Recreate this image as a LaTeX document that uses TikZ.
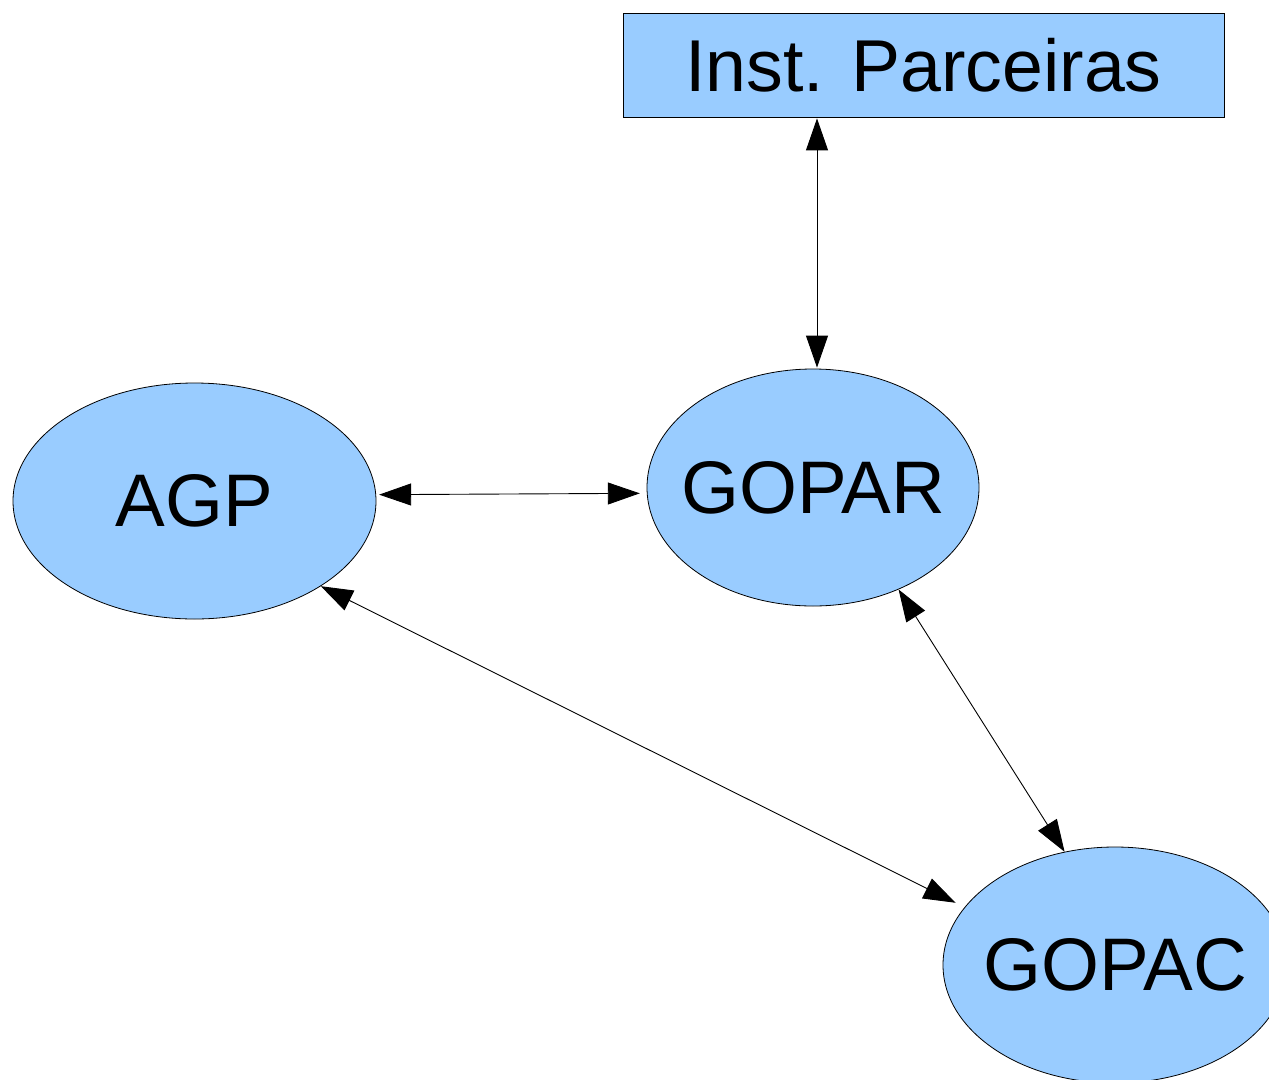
\documentclass[tikz,border=0pt]{standalone}
\usepackage{fontspec}
\setmainfont{Liberation Sans}
\usetikzlibrary{shapes.geometric,arrows.meta}
\definecolor{boxblue}{HTML}{99CCFF}
\newcommand{\unitlabel}[1]{\makebox[0pt]{#1}}
\tikzset{
  unit/.style={ellipse, draw=black, line width=0.8pt, fill=boxblue, inner sep=0pt,
    font=\fontsize{74.5}{80}\selectfont},
  partner/.style={rectangle, draw=black, line width=0.8pt, fill=boxblue, inner sep=0pt,
    font=\fontsize{73.5}{80}\selectfont},
  link/.style={line width=0.9pt, {Triangle[length=32pt,width=22pt]}-{Triangle[length=32pt,width=22pt]}}
}
\begin{document}
\begin{tikzpicture}[x=1pt,y=-1pt]
  \useasboundingbox (0,0) rectangle (1269,1079);
  \fill[white] (0,0) rectangle (1269,1079);

  \node[partner, minimum width=601pt, minimum height=104pt] (inst) at (923.5,65) {Inst. Parceiras};
  \node[unit, minimum width=363pt, minimum height=236pt] (agp) at (194.5,501) {\unitlabel{AGP}};
  \node[unit, minimum width=332pt, minimum height=237pt] (gopar) at (813,487.5) {\unitlabel{GOPAR}};
  \node[unit, minimum width=344pt, minimum height=236pt] (gopac) at (1115,965) {\unitlabel{GOPAC}};

  % links between the units
  \draw[link] ([xshift=-106.5pt,yshift=-1pt]inst.south) -- ([xshift=4pt,yshift=1pt]gopar.north);
  \draw[link, shorten <=3pt, shorten >=7pt] (agp.2.5) -- (gopar.-178.2);
  \draw[link, shorten >=10pt] (agp.-34) -- (gopac.159);
  \draw[link] (gopar.-50) -- (gopac.114.5);
\end{tikzpicture}
\end{document}
